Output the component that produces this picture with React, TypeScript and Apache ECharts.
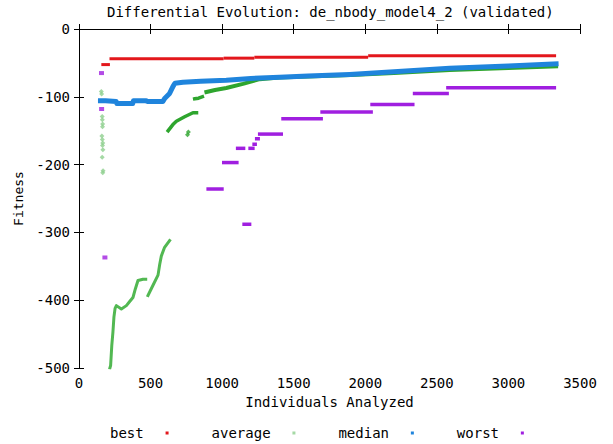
import React, { useEffect, useRef } from "react";
import * as echarts from "echarts";

const titleText = "Differential Evolution: de_nbody_model4_2 (validated)";
const xName = "Individuals Analyzed";
const yName = "Fitness";
const seriesNames = ["best", "average", "median", "worst"];

const xMin = 0, xMax = 3500, xStep = 500;
const yMin = -500, yMax = 0, yStep = 100;

// best: [xStart, xEnd, fitness]
const bestSteps = [
  [156, 216, -52.5],
  [213, 1010, -44],
  [1010, 1225, -43],
  [1225, 2020, -41.5],
  [2020, 3333, -39.5],
];

// average: early scattered points
const averageScatter = [
  [156, -92], [158, -96], [162, -129], [163, -134], [165, -140], [164, -144],
  [160, -158], [163, -163], [166, -168], [164, -172], [167, -178], [162, -189],
  [168, -209], [166, -212],
];
const averageLowA = [
  [216, -500], [221, -496], [229, -467], [237, -447], [244, -425], [252, -412],
  [261, -408], [296, -413], [331, -408], [354, -402], [377, -396], [394, -383],
  [412, -371], [447, -369], [466, -369],
];
const averageLowB = [
  [482, -393], [517, -378], [552, -363], [564, -347], [575, -335], [598, -322],
  [633, -312],
];
const averageMid = [
  [623, -150], [660, -140], [680, -136], [738, -129.5], [796, -123.5], [821, -123.5],
];
const averageOutlier = [[758, -156], [764, -152]];
const averageUpperA = [[808, -103], [835, -102], [862, -100]];
const averageUpperB = [
  [890, -93], [950, -90], [1029, -87], [1145, -81], [1262, -74], [1400, -71.5],
  [1600, -70], [1900, -68], [2200, -65], [2590, -60.5], [3000, -57.5], [3333, -55],
];

// median
const medianLine = [
  [150, -106], [185, -106], [260, -107], [265, -110], [375, -110], [380, -106],
  [470, -106], [480, -107], [585, -107], [600, -102], [633, -95], [656, -85],
  [670, -80], [726, -78.5], [850, -77], [1029, -75.5], [1200, -73], [1400, -71],
  [1600, -69.5], [1890, -67], [2200, -63], [2590, -58], [3000, -54.5], [3333, -51.5],
];

// worst: [xStart, xEnd, fitness]
const worstSteps = [
  [890, 1011, -236],
  [999, 1115, -197],
  [1096, 1162, -176],
  [1141, 1204, -288],
  [1183, 1227, -176],
  [1211, 1243, -170],
  [1229, 1264, -162],
  [1250, 1425, -155],
  [1413, 1704, -132.5],
  [1686, 2053, -122.5],
  [2035, 2344, -111.5],
  [2332, 2584, -95],
  [2565, 3333, -86.5],
];
const worstEarly = [[157, -65], [158, -118], [181, -337]];

const colors = {
  best: "#e3171c",
  average: "#2ea52e",
  averageLow: "#52b852",
  averageLight: "#8fcf8f",
  median: "#1f84dc",
  worst: "#a01fe0",
};

const FONT = "DejaVu Sans Mono";

function stepSeries(name: string, data: number[][], color: string, h: number) {
  return {
    name,
    type: "custom",
    data,
    encode: { x: [0, 1], y: 2 },
    itemStyle: { color },
    renderItem: (params: any, api: any) => {
      const p1 = api.coord([api.value(0), api.value(2)]);
      const p2 = api.coord([api.value(1), api.value(2)]);
      return {
        type: "rect",
        shape: { x: p1[0], y: p1[1] - h / 2, width: p2[0] - p1[0], height: h },
        style: { fill: color },
      };
    },
  };
}

function lineSeries(name: string, data: number[][], color: string, w: number, z = 2) {
  return {
    name,
    type: "line",
    data,
    showSymbol: false,
    symbol: "none",
    z,
    itemStyle: { color },
    lineStyle: { color, width: w, cap: "square", join: "round" },
  };
}

export default function App() {
  const ref = useRef<HTMLDivElement>(null);
  useEffect(() => {
    if (!ref.current) return;
    const chart = echarts.init(ref.current, undefined, { renderer: "svg" });
    const axisLine = { show: true, lineStyle: { color: "#000", width: 1 } };
    const tick = { show: true, inside: true, length: 5, lineStyle: { color: "#000" } };
    const plain = (v: number) => String(v);
    chart.setOption({
      animation: false,
      backgroundColor: "#fff",
      title: {
        text: titleText,
        left: 102,
        top: 0,
        textStyle: { fontFamily: FONT, fontSize: 14, fontWeight: "normal", color: "#000" },
      },
      grid: { left: 79, right: 33, top: 29, bottom: 76, containLabel: false },
      legend: {
        data: seriesNames.map((n) => ({ name: n, icon: "rect" })),
        left: 105,
        top: 421,
        align: "right",
        itemWidth: 3,
        itemHeight: 3,
        itemGap: 43,
        formatter: (n: string) => n + "  ",
        textStyle: { fontFamily: FONT, fontSize: 14, color: "#000" },
      },
      xAxis: [
        {
          type: "value",
          min: xMin,
          max: xMax,
          interval: xStep,
          position: "bottom",
          name: xName,
          nameLocation: "middle",
          nameGap: 27,
          nameTextStyle: { fontFamily: FONT, fontSize: 14, color: "#000" },
          axisLine,
          axisTick: tick,
          splitLine: { show: false },
          axisLabel: { fontFamily: FONT, fontSize: 14, color: "#000", margin: 8, formatter: plain },
        },
        {
          type: "value",
          min: xMin,
          max: xMax,
          interval: xStep,
          position: "top",
          axisLine,
          axisTick: tick,
          splitLine: { show: false },
          axisLabel: { show: false },
        },
      ],
      yAxis: [
        {
          type: "value",
          min: yMin,
          max: yMax,
          interval: yStep,
          position: "left",
          name: yName,
          nameLocation: "middle",
          nameRotate: 90,
          nameGap: 48,
          nameTextStyle: { fontFamily: FONT, fontSize: 13, color: "#000" },
          axisLine,
          axisTick: tick,
          splitLine: { show: false },
          axisLabel: { fontFamily: FONT, fontSize: 14, color: "#000", margin: 9, formatter: plain },
        },
        {
          type: "value",
          min: yMin,
          max: yMax,
          interval: yStep,
          position: "right",
          axisLine,
          axisTick: tick,
          splitLine: { show: false },
          axisLabel: { show: false },
        },
      ],
      series: [
        stepSeries("best", bestSteps, colors.best, 3),
        {
          name: "average",
          type: "scatter",
          data: averageScatter,
          symbol: "diamond",
          symbolSize: 5,
          itemStyle: { color: colors.averageLight },
        },
        lineSeries("average", averageLowA, colors.averageLow, 3),
        lineSeries("average", averageLowB, colors.averageLow, 3),
        lineSeries("average", averageMid, colors.average, 3.5),
        lineSeries("average", averageUpperA, colors.average, 3.5),
        lineSeries("average", averageUpperB, colors.average, 4),
        {
          name: "average",
          type: "scatter",
          data: averageOutlier,
          symbol: "diamond",
          symbolSize: 5,
          itemStyle: { color: colors.average },
        },
        lineSeries("median", medianLine, colors.median, 5, 3),
        stepSeries("worst", worstSteps, colors.worst, 3.5),
        {
          name: "worst",
          type: "scatter",
          data: worstEarly,
          symbol: "rect",
          symbolSize: [5, 4],
          itemStyle: { color: colors.worst },
        },
      ],
    });
    return () => chart.dispose();
  }, []);
  return (
    <div
      ref={ref}
      style={{ position: "fixed", left: 0, top: 0, width: 613, height: 444, background: "#fff" }}
    />
  );
}
